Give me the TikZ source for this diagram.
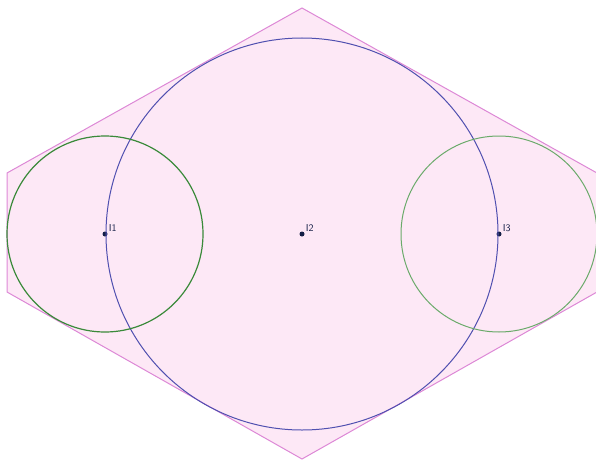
\documentclass[tikz,border=0pt]{standalone}
\usepackage{tikz}
\usepackage{xcolor}
\usetikzlibrary{positioning}
\definecolor{hexfill}{HTML}{FDE8F6}
\definecolor{hexline}{HTML}{DD88D6}
\definecolor{bigblue}{HTML}{5050B0}
\definecolor{darkgreen}{HTML}{3A8A3A}
\definecolor{lightgreen}{HTML}{6AAA6A}
\definecolor{ptcol}{HTML}{141E46}
\tikzset{
  pt/.style={circle,fill=ptcol,inner sep=0pt,minimum size=5pt},
  ptlabel/.style={font=\sffamily\fontsize{10}{10}\selectfont,text=ptcol,inner sep=1pt}
}

\begin{document}
\begin{tikzpicture}[x=1pt,y=-1pt]
    \useasboundingbox (0,0) rectangle (596,460);
    % hexagon
    \draw[hexline,fill=hexfill,line width=1pt]
      (302,8) -- (597,173) -- (597,292) -- (302,459) -- (7,292) -- (7,173) -- cycle;

    \node[pt] (I1) at (105,234) {};
    \node[pt] (I2) at (302,234) {};
    \node[pt] (I3) at (499,234) {};
    \node[ptlabel,anchor=south west] (l1) at ([yshift=1pt]I1.east) {I1};
    \node[ptlabel,anchor=south west] (l2) at ([yshift=1pt]I2.east) {I2};
    \node[ptlabel,anchor=south west] (l3) at ([yshift=1pt]I3.east) {I3};

    \draw[bigblue,line width=1pt] (I2) circle (196);
    \draw[darkgreen,line width=1.2pt] (I1) circle (98);
    \draw[lightgreen,line width=1pt] (I3) circle (98);
  \end{tikzpicture}
\end{document}
